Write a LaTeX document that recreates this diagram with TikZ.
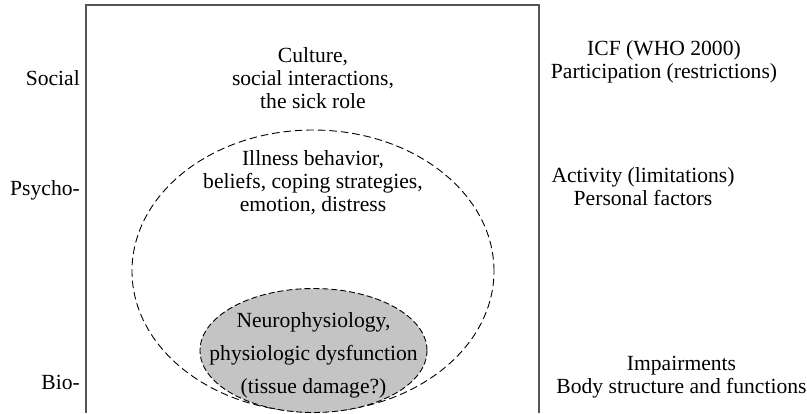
\documentclass[tikz,border=0pt]{standalone}
\usepackage{fontspec}
\setmainfont{Liberation Serif}
\usetikzlibrary{shapes.geometric}
\definecolor{boxline}{RGB}{85,85,85}
\definecolor{bioFill}{RGB}{196,196,196}
\begin{document}
\begin{tikzpicture}[x=1pt,y=-1pt,
  txt/.style={align=center,inner sep=0pt,font=\fontsize{21.6}{23}\selectfont},
  sidelabel/.style={anchor=east,inner sep=0pt,font=\fontsize{21.6}{23}\selectfont},
  dashline/.style={dash pattern=on 7.5pt off 4pt,line width=0.9pt},
  finedash/.style={dash pattern=on 6pt off 3pt,line width=0.9pt}]
\useasboundingbox (0,0) rectangle (807,413);
% frame (open at bottom)
\coordinate (bl) at (86,413);
\coordinate (tl) at (86,5);
\coordinate (tr) at (539,5);
\coordinate (br) at (539,413);
\draw[boxline,line width=1.4pt] (bl) -- (tl) -- (tr) -- (br);
% ellipses
\node[ellipse,draw,dashline,minimum width=362pt,minimum height=282pt,inner sep=0pt] (psy) at (313,271) {};
\node[ellipse,draw,finedash,fill=bioFill,minimum width=227pt,minimum height=124pt,inner sep=0pt] (bio) at (313.5,350.5) {};
% inner texts
\node[txt] (soctxt) at (313,78) {Culture,\\social interactions,\\the sick role};
\node[txt] (psytxt) at (313,183) {Illness behavior,\\beliefs, coping strategies,\\emotion, distress};
\node[align=center,inner sep=0pt,font=\fontsize{21.6}{33}\selectfont] (biotxt) at (313.5,355) {Neurophysiology,\\physiologic dysfunction\\(tissue damage?)};
% left labels
\node[sidelabel] (lsoc) at (80,78) {Social};
\node[sidelabel] (lpsy) at (80,190) {Psycho-};
\node[sidelabel] (lbio) at (80,382) {Bio-};
% right labels
\node[txt] (icf) at (664,62) {ICF (WHO 2000)\\Participation (restrictions)};
\node[txt] (act) at (643,187) {Activity (limitations)\\Personal factors};
\node[txt] (imp) at (681.5,377) {Impairments\\Body structure and functions};
\end{tikzpicture}
\end{document}
